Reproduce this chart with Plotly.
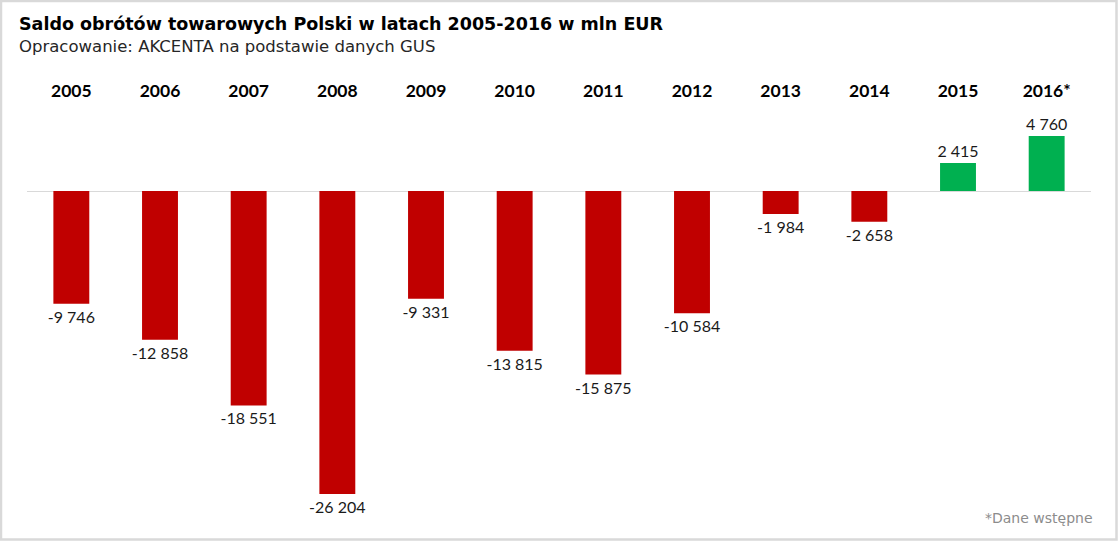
import plotly.graph_objects as go

years = ["2005", "2006", "2007", "2008", "2009", "2010", "2011", "2012", "2013", "2014", "2015", "2016*"]
saldo = [-9746, -12858, -18551, -26204, -9331, -13815, -15875, -10584, -1984, -2658, 2415, 4760]

title = "Saldo obrótów towarowych Polski w latach 2005-2016 w mln EUR"
subtitle = "Opracowanie: AKCENTA na podstawie danych GUS"
footnote = "*Dane wstępne"

RED = "#C00000"
GREEN = "#00B050"

colors = [GREEN if v > 0 else RED for v in saldo]
labels = [f"{v:,}".replace(",", " ") for v in saldo]

W, H = 1118, 541
ML, MR, MT, MB = 27, 27, 110, 21
FONT = "Lato"
WIDE = "DejaVu Sans"

fig = go.Figure()
fig.add_trace(go.Bar(
    x=years, y=saldo,
    marker=dict(color=colors, line=dict(width=0)),
    width=0.405,
    text=labels,
    textposition="outside",
    constraintext="none",
    textfont=dict(family=FONT, size=16, color="#1a1a1a"),
    cliponaxis=False,
    hoverinfo="x+y",
))

fig.update_layout(
    width=W, height=H,
    margin=dict(l=ML, r=MR, t=MT, b=MB),
    paper_bgcolor="white", plot_bgcolor="white",
    showlegend=False,
    bargap=0.595,
    xaxis=dict(
        side="top", showgrid=False, showline=False, zeroline=False, ticks="",
        tickfont=dict(family=FONT, size=17.5, color="#000000", weight="bold"),
        ticklabelstandoff=9,
        fixedrange=True,
    ),
    yaxis=dict(
        range=[-28460, 7007], showgrid=False, showticklabels=False, ticks="",
        zeroline=True, zerolinecolor="#D9D9D9", zerolinewidth=1,
        showline=False, fixedrange=True,
    ),
    annotations=[
        dict(text="<b>" + title + "</b>", xref="paper", yref="paper",
             x=-10 / 1064, y=1 + (110 - 24) / 410, xanchor="left", yanchor="middle",
             showarrow=False, font=dict(family=WIDE, size=17.5, color="#000000")),
        dict(text=subtitle, xref="paper", yref="paper",
             x=-10 / 1064, y=1 + (110 - 46) / 410, xanchor="left", yanchor="middle",
             showarrow=False, font=dict(family=WIDE, size=16.5, color="#262626")),
        dict(text=footnote, xref="paper", yref="paper",
             x=(1095 - 27) / 1064, y=-(518 - 520) / 410, xanchor="right", yanchor="middle",
             showarrow=False, font=dict(family=WIDE, size=14, color="#8C8C8C")),
    ],
    shapes=[
        dict(type="rect", xref="paper", yref="paper",
             x0=-(27 - 1) / 1064, x1=1 + (27 - 1.5) / 1064,
             y0=-(21 - 1.5) / 410, y1=1 + (110 - 1) / 410,
             line=dict(color="#D9D9D9", width=2.5), fillcolor="rgba(0,0,0,0)", layer="below"),
    ],
)

fig.write_html("out.html")
